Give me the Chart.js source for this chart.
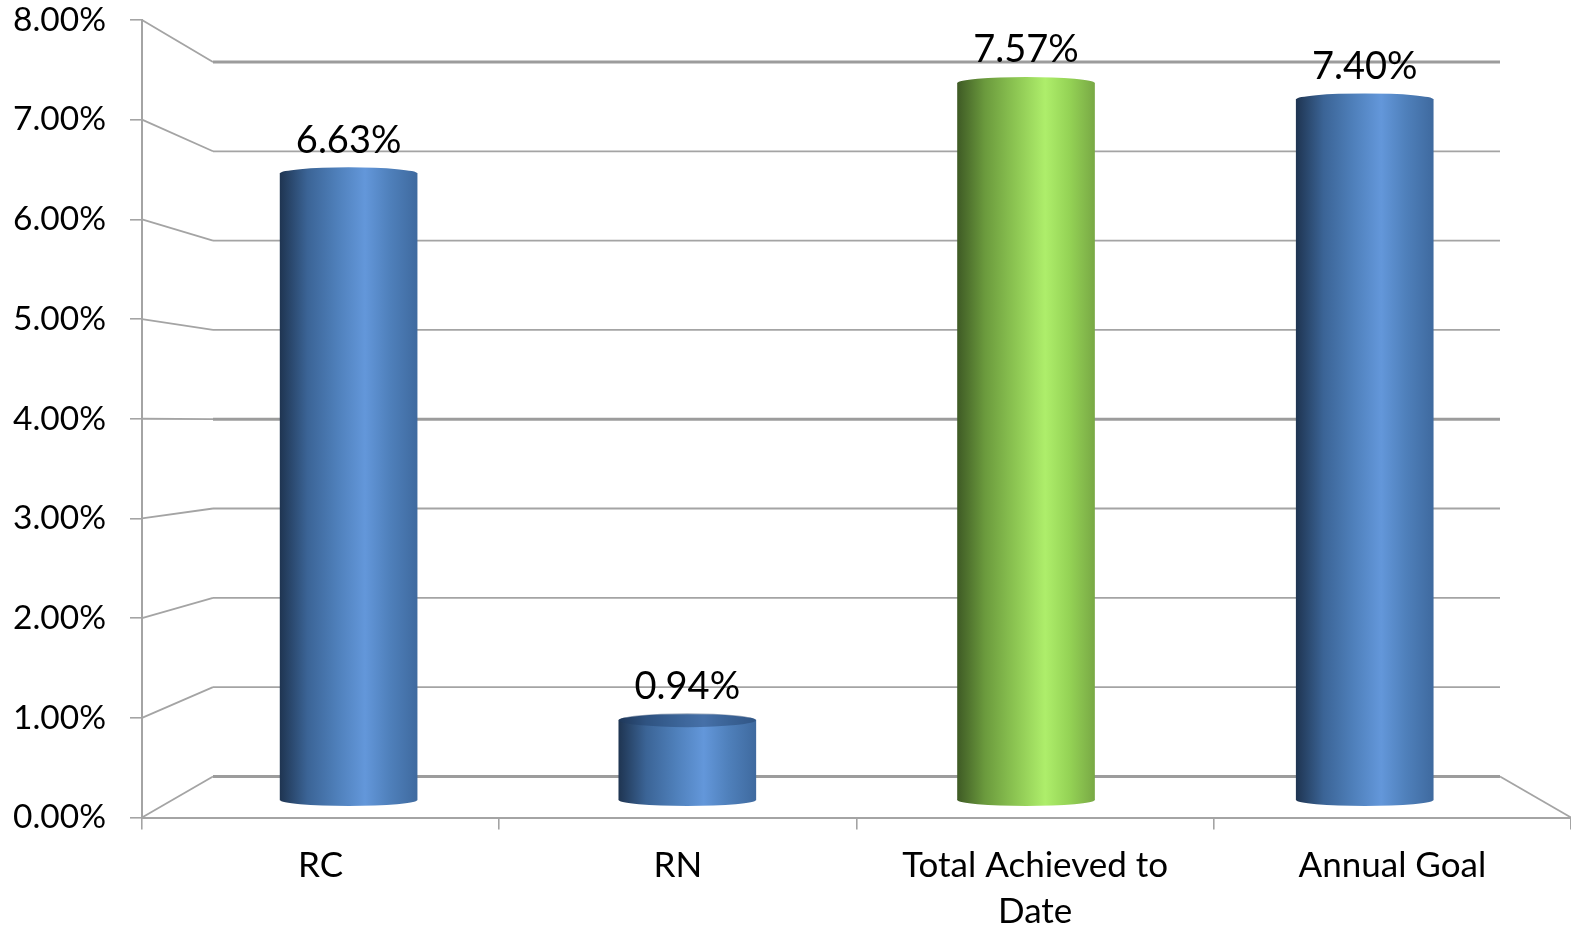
<!DOCTYPE html>
<html>
<head>
<meta charset="utf-8">
<style>html,body{margin:0;padding:0;background:#fff}canvas{display:block}</style>
<script src="https://cdn.jsdelivr.net/npm/chart.js@4"></script>
</head>
<body>
<canvas id="c" width="1571" height="927"></canvas>
<script>
const categories = ['RC', 'RN', ['Total Achieved to', 'Date'], 'Annual Goal'];
const values = [6.63, 0.94, 7.57, 7.40];
const barTone = ['blue', 'blue', 'green', 'blue'];
const tickMax = 8;

const tones = {
  blue: [[0, '#1f3552'], [0.2, '#3b6496'], [0.42, '#4f80bb'], [0.62, '#6397da'], [0.8, '#4f80bb'], [1, '#3f6a9f']],
  green: [[0, '#3f5b25'], [0.2, '#6b9a3d'], [0.42, '#8cc552'], [0.64, '#aeee6b'], [0.82, '#94d255'], [1, '#79a945']]
};
const barWidth = 137, capRy = 6, wallInset = 71;
const wallColor = '#a4a4a4';
const fontFamily = 'Lato, Carlito, sans-serif';

function toneFill(chart, i) {
  const cx = chart.scales.xBar ? chart.scales.xBar.getPixelForValue(i) : NaN;
  if (!Number.isFinite(cx)) return tones[barTone[i]][2][1];
  const g = chart.ctx.createLinearGradient(cx - barWidth / 2, 0, cx + barWidth / 2, 0);
  tones[barTone[i]].forEach(s => g.addColorStop(s[0], s[1]));
  return g;
}

function noScalePadding(s) {
  s.paddingTop = 0; s.paddingBottom = 0; s.paddingLeft = 0; s.paddingRight = 0;
}

const wallsPlugin = {
  id: 'walls',
  beforeDatasetsDraw(chart) {
    const { ctx, chartArea: a, scales } = chart;
    ctx.save();
    ctx.lineJoin = 'round';
    for (let t = 0; t <= tickMax; t++) {
      const front = scales.y.getPixelForValue(t);
      const back = scales.yBack.getPixelForValue(t);
      const heavy = t % 4 === 0;
      ctx.strokeStyle = wallColor;
      ctx.lineWidth = 1.8;
      ctx.beginPath();
      ctx.moveTo(a.left, front);
      ctx.lineTo(a.left + wallInset, back);
      ctx.stroke();
      ctx.strokeStyle = heavy ? '#9c9c9c' : wallColor;
      ctx.lineWidth = heavy ? 3 : 1.8;
      ctx.beginPath();
      ctx.moveTo(a.left + wallInset, back);
      ctx.lineTo(a.right - wallInset, back);
      ctx.stroke();
    }
    ctx.strokeStyle = wallColor;
    ctx.lineWidth = 1.8;
    ctx.beginPath();
    ctx.moveTo(a.right - wallInset, scales.yBack.getPixelForValue(0));
    ctx.lineTo(a.right, scales.y.getPixelForValue(0));
    ctx.stroke();
    ctx.restore();
  }
};

const cylinderPlugin = {
  id: 'cylinder',
  afterDatasetsDraw(chart) {
    const { ctx } = chart;
    const els = chart.getDatasetMeta(0).data;
    ctx.save();
    els.forEach((el, i) => {
      const fill = toneFill(chart, i);
      ctx.fillStyle = fill;
      ctx.beginPath();
      ctx.ellipse(el.x, el.base, barWidth / 2, capRy, 0, 0, Math.PI * 2);
      ctx.fill();
      ctx.beginPath();
      ctx.ellipse(el.x, el.y, barWidth / 2, capRy, 0, 0, Math.PI * 2);
      ctx.fill();
      if (values[i] < tickMax / 2) {
        ctx.fillStyle = 'rgba(30,60,100,0.42)';
        ctx.beginPath();
        ctx.ellipse(el.x, el.y, barWidth / 2, capRy + 1, 0, 0, Math.PI * 2);
        ctx.fill();
      }
      ctx.fillStyle = '#000';
      ctx.font = '38px ' + fontFamily;
      ctx.textAlign = 'center';
      ctx.textBaseline = 'middle';
      ctx.fillText(values[i].toFixed(2) + '%', el.x, el.y - 33);
    });
    ctx.restore();
  }
};

new Chart(document.getElementById('c'), {
  type: 'bar',
  data: {
    labels: categories,
    datasets: [{
      data: values.map((v, i) => ({ x: i, y: v })),
      xAxisID: 'xBar',
      yAxisID: 'yBar',
      base: 0.11,
      barThickness: barWidth,
      borderWidth: 0,
      backgroundColor: c => toneFill(c.chart, c.dataIndex)
    }]
  },
  options: {
    responsive: false,
    animation: false,
    devicePixelRatio: 1,
    layout: { padding: { left: 0, top: 20, right: 0, bottom: 0 } },
    plugins: { legend: { display: false }, tooltip: { enabled: false } },
    scales: {
      x: {
        type: 'category',
        labels: categories,
        offset: true,
        position: 'bottom',
        afterFit: s => { s.height = 109.5; noScalePadding(s); },
        border: { color: wallColor, width: 2 },
        grid: { offset: true, drawOnChartArea: false, color: wallColor, lineWidth: 1.6, tickLength: 12 },
        ticks: { color: '#000', padding: 13, maxRotation: 0, autoSkip: false, font: { family: fontFamily, size: 35, lineHeight: 1.31 } }
      },
      y: {
        type: 'linear',
        min: 0,
        max: tickMax,
        position: 'left',
        afterFit: s => { s.width = 142; noScalePadding(s); },
        border: { color: wallColor, width: 2 },
        grid: { drawOnChartArea: false, color: wallColor, lineWidth: 1.6, tickLength: 12 },
        ticks: { stepSize: 1, color: '#000', padding: 24, font: { family: fontFamily, size: 33.5 }, callback: v => v.toFixed(2) + '%' }
      },
      yBack: { type: 'linear', display: false, min: -0.46, max: 8.47 },
      yBar: { type: 'linear', display: false, min: -0.073, max: 8.226 },
      xBar: { type: 'linear', display: false, offset: false, grid: { offset: false }, min: -0.61, max: 3.609, position: 'bottom' }
    }
  },
  plugins: [wallsPlugin, cylinderPlugin]
});
</script>
</body>
</html>
